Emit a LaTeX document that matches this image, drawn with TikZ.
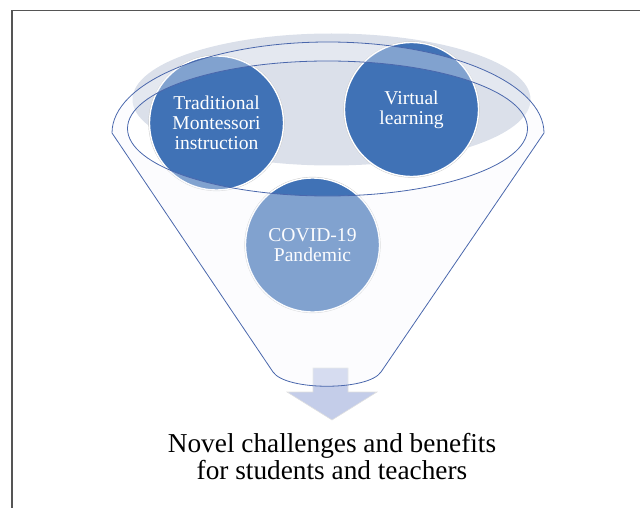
\documentclass[tikz,border=0pt]{standalone}
\usepackage{fontspec}
\setmainfont{Liberation Serif}
\definecolor{dblue}{RGB}{64,114,182}
\definecolor{rimgray}{RGB}{219,224,234}
\definecolor{funline}{RGB}{74,103,172}
\definecolor{framegray}{RGB}{85,85,85}
\definecolor{arrowfill}{RGB}{196,205,233}
\definecolor{funfill}{RGB}{246,248,253}
\tikzset{
  circ/.style={circle, minimum size=134pt, inner sep=0pt, fill=dblue, draw=white, line width=1.4pt,
    preaction={draw=black!22, line width=2.2pt}, text=white, align=center,
    font=\fontsize{19.6}{20.2}\selectfont},
  funnelline/.style={draw=funline, line width=0.8pt},
  resulttext/.style={align=center, font=\fontsize{27.3}{27}\selectfont, inner sep=0pt}
}
\begin{document}
\begin{tikzpicture}[x=1pt,y=-1pt]
\useasboundingbox (0,0) rectangle (640,508);
% frame
\draw[framegray, line width=1.3pt] (12,508) -- (12,10.6) -- (640,10.6);
% back ellipse (funnel opening)
\fill[rimgray] (331.5,99.5) ellipse [x radius=199, y radius=66];
% arrow
\draw[fill=arrowfill, draw=black!12, line width=0.6pt]
  (313,368) -- (348,368) -- (348,392) -- (377,392) -- (332,420) -- (287,392) -- (313,392) -- cycle;
% circles
\node[circ] (trad) at (216.5,123) {Traditional\\Montessori\\instruction};
\node[circ] (virt) at (411.5,109.5) {Virtual\\learning};
\node[circ] (covid) at (312.5,245) {COVID-19\\Pandemic};
% funnel translucent body
\fill[funfill, fill opacity=0.36, even odd rule]
  (112,133) arc[start angle=180, end angle=360, x radius=216, y radius=91]
  -- (381,372) .. controls (368,391) and (286,391) .. (273,372) -- cycle
  (327.5,128.5) ellipse [x radius=200, y radius=67.5];
% funnel outlines
\draw[funnelline]
  (112,133) arc[start angle=180, end angle=360, x radius=216, y radius=91]
  -- (381,372) .. controls (368,391) and (286,391) .. (273,372) -- cycle;
\draw[funnelline] (327.5,128.5) ellipse [x radius=200, y radius=67.5];
% result text
\node[resulttext] (result) at (332,457) {Novel challenges and benefits\\for students and teachers};
\end{tikzpicture}
\end{document}
